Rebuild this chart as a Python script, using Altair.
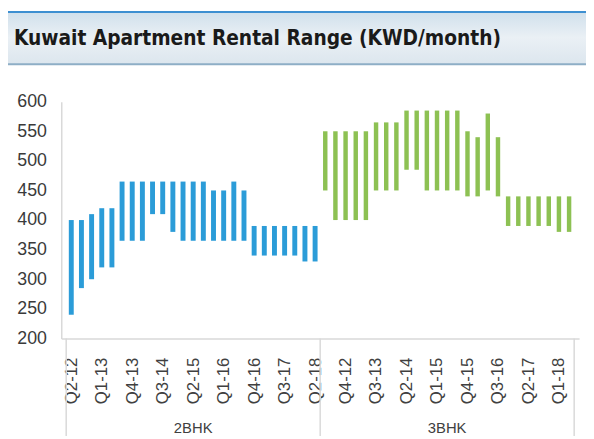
import json
import altair as alt
import pandas as pd

TITLE = "Kuwait Apartment Rental Range (KWD/month)"
GROUPS = ["2BHK", "3BHK"]
QUARTERS = ["Q2-12", "Q3-12", "Q4-12", "Q1-13", "Q2-13", "Q3-13", "Q4-13",
            "Q1-14", "Q2-14", "Q3-14", "Q4-14", "Q1-15", "Q2-15", "Q3-15",
            "Q4-15", "Q1-16", "Q2-16", "Q3-16", "Q4-16", "Q1-17", "Q2-17",
            "Q3-17", "Q4-17", "Q1-18", "Q2-18"]
BHK2_LOW = [240, 285, 300, 320, 320, 365, 365, 365, 410, 410, 380, 365, 365,
            365, 365, 365, 365, 365, 340, 340, 340, 340, 340, 330, 330]
BHK2_HIGH = [400, 400, 410, 420, 420, 465, 465, 465, 465, 465, 465, 465, 465,
             465, 450, 450, 465, 450, 390, 390, 390, 390, 390, 390, 390]
BHK3_LOW = [450, 400, 400, 400, 400, 450, 450, 450, 485, 485, 450, 450, 450,
            450, 440, 440, 450, 440, 390, 390, 390, 390, 390, 380, 380]
BHK3_HIGH = [550, 550, 550, 550, 550, 565, 565, 565, 585, 585, 585, 585, 585,
             585, 550, 540, 580, 540, 440, 440, 440, 440, 440, 440, 440]
COLORS = ["#2b9cd8", "#8dc153"]
Y_TICKS = [200, 250, 300, 350, 400, 450, 500, 550, 600]

W, H = 525, 240
N = len(QUARTERS)

rows = []
for g, (lows, highs) in enumerate([(BHK2_LOW, BHK2_HIGH), (BHK3_LOW, BHK3_HIGH)]):
    for i, q in enumerate(QUARTERS):
        rows.append({"pos": g * N + i, "quarter": q, "group": GROUPS[g],
                     "low": lows[i], "high": highs[i], "w": 5 if g == 0 else 4.5})
df = pd.DataFrame(rows)

sep_df = pd.DataFrame({"pos": [g * N - 0.5 for g in range(len(GROUPS) + 1)]})
grp_df = pd.DataFrame({"pos": [g * N + (N - 1) / 2 for g in range(len(GROUPS))],
                       "group": GROUPS})

label_expr = json.dumps(QUARTERS).replace('"', "'") + "[datum.value % " + str(N) + "]"

x_scale = alt.Scale(domain=[-0.5, 2 * N - 0.5], nice=False, zero=False)
FONT = "Liberation Sans, Arial, sans-serif"
TITLE_FONT = "'DejaVu Sans Condensed', 'Liberation Sans', sans-serif"

x_axis = alt.Axis(values=list(range(0, 2 * N, 3)), labelExpr=label_expr,
                  labelAngle=270, labelAlign="right", labelBaseline="middle",
                  labelPadding=19, labelFontSize=17, labelColor="#404040",
                  labelFont=FONT, ticks=False, grid=False,
                  domainColor="#d9d9d9", domainWidth=1.5, title=None,
                  labelOverlap=False, labelBound=False, labelFlush=False)

bars = alt.Chart(df).mark_bar().encode(
    x=alt.X("pos:Q", scale=x_scale, axis=x_axis),
    y=alt.Y("low:Q", scale=alt.Scale(domain=[200, 600], nice=False, zero=False),
            axis=alt.Axis(values=Y_TICKS, ticks=False, grid=False, labelFontSize=18,
                          labelColor="#3a3a3a", labelFont=FONT,
                          labelPadding=15, domainColor="#d9d9d9", domainWidth=1.5,
                          title=None, labelOverlap=False)),
    y2="high:Q",
    color=alt.Color("group:N", scale=alt.Scale(domain=GROUPS, range=COLORS), legend=None),
    size=alt.Size("w:Q", scale=None),
)

seps = alt.Chart(sep_df).mark_rule(color="#d9d9d9", strokeWidth=1.5).encode(
    x=alt.X("pos:Q", scale=x_scale, axis=x_axis),
    y=alt.value(H),
    y2=alt.value(H + 99),
)

grp_text = alt.Chart(grp_df).mark_text(
    fontSize=15, color="#404040", font=FONT, baseline="top"
).encode(
    x=alt.X("pos:Q", scale=x_scale, axis=x_axis),
    y=alt.value(H + 84),
    text="group:N",
)

band = alt.Chart(pd.DataFrame({"a": [0]})).mark_rect(
    fill=alt.LinearGradient(
        gradient="linear", x1=0, y1=0, x2=0, y2=1,
        stops=[alt.GradientStop(color="#cfdfeb", offset=0),
               alt.GradientStop(color="#eaf0f5", offset=0.5),
               alt.GradientStop(color="#dce6ee", offset=1)]),
).encode(x=alt.value(-55), x2=alt.value(W + 7), y=alt.value(-92), y2=alt.value(-38))

band_top = alt.Chart(pd.DataFrame({"a": [0]})).mark_rule(
    color="#3d8fd1", strokeWidth=2
).encode(x=alt.value(-55), x2=alt.value(W + 7), y=alt.value(-91))

band_bot = alt.Chart(pd.DataFrame({"a": [0]})).mark_rule(
    color="#8eaec6", strokeWidth=2
).encode(x=alt.value(-55), x2=alt.value(W + 7), y=alt.value(-38))

title = alt.Chart(pd.DataFrame({"a": [0]})).mark_text(
    align="left", baseline="middle", fontSize=21, fontWeight="bold",
    font=TITLE_FONT, color="#1a1a1a"
).encode(x=alt.value(-48), y=alt.value(-63), text=alt.value(TITLE))

chart = alt.layer(band, band_top, band_bot, title, bars, seps, grp_text).properties(
    width=W, height=H,
    autosize=alt.AutoSizeParams(type="none"),
    padding={"left": 54, "top": 92, "right": 7, "bottom": 99},
).configure_view(stroke=None)

chart.save("out.html", embed_options={"renderer": "svg", "actions": False})
